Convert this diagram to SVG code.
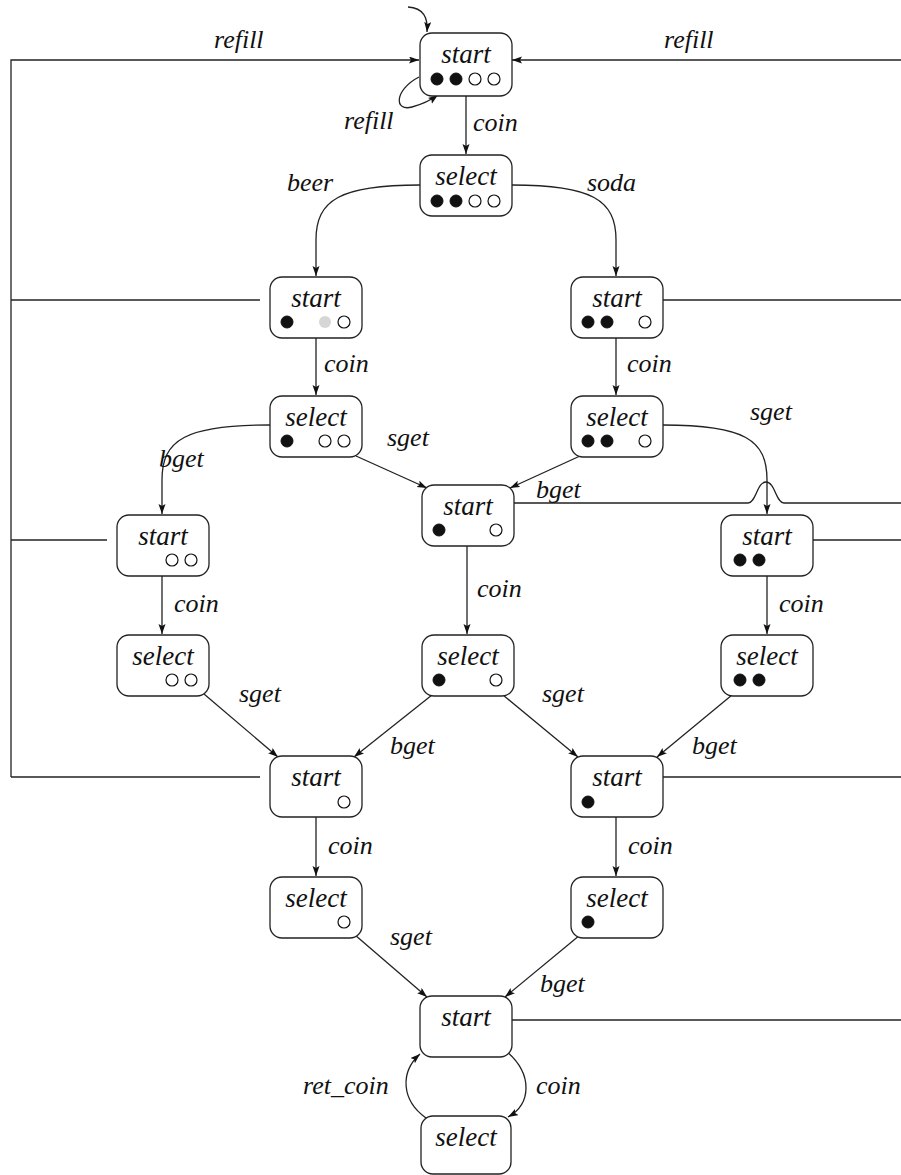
<svg xmlns="http://www.w3.org/2000/svg" width="901" height="1175" viewBox="0 0 901 1175">
<style>
.box{fill:#fff;stroke:#222;stroke-width:1.3}
.nt{font-family:"Liberation Serif","DejaVu Serif",serif;font-style:italic;font-size:27px;fill:#111;text-anchor:middle}
.el{font-family:"Liberation Serif","DejaVu Serif",serif;font-style:italic;font-size:26px;fill:#111}
.f{fill:#111;stroke:#111;stroke-width:1}
.e{fill:#fff;stroke:#111;stroke-width:1.2}
.g{fill:#d6d6d6;stroke:none}
.c{fill:none;stroke:#222;stroke-width:1.3}
.a{marker-end:url(#ah)}
</style>
<defs>
<marker id="ah" markerWidth="11" markerHeight="8" refX="10" refY="3.5" orient="auto" markerUnits="userSpaceOnUse">
<path d="M0,0 L10,3.5 L0,7 L2,3.5 z" fill="#111"/>
</marker>
</defs>
<rect x="0" y="0" width="901" height="1175" fill="#fff"/>
<g id="connectors">
<path class="c a" d="M408,7 C424,8 428,18 427,32"/>
<path class="c a" d="M419,77 C394,90 394,112 412,107 C423,104 431,100 438,95"/>
<path class="c a" d="M11,777 L11,60 L419,60"/>
<path class="c a" d="M901,60 L512,60"/>
<path class="c" d="M11,300 L260,300"/>
<path class="c" d="M11,540 L107,540"/>
<path class="c" d="M11,777 L260,777"/>
<path class="c" d="M663,300 L901,300"/>
<path class="c" d="M514,503 L748,503 C756,503 757,482 766,482 C775,482 776,503 784,503 L901,503"/>
<path class="c" d="M813,540 L901,540"/>
<path class="c" d="M663,777 L901,777"/>
<path class="c" d="M512,1020 L901,1020"/>
<path class="c a" d="M466,96 L466,154"/>
<path class="c a" d="M420,185 C340,185 316,200 316,240 L316,276"/>
<path class="c a" d="M512,185 C592,185 616,200 616,240 L616,276"/>
<path class="c a" d="M316,338 L316,395"/>
<path class="c a" d="M616,338 L616,395"/>
<path class="c a" d="M270,425 C185,425 162,440 162,480 L162,514"/>
<path class="c a" d="M663,425 C745,425 767,440 767,480 L767,514"/>
<path class="c a" d="M356,456 L427,488"/>
<path class="c a" d="M580,456 L510,488"/>
<path class="c a" d="M162,576 L162,634"/>
<path class="c a" d="M467,546 L467,634"/>
<path class="c a" d="M767,576 L767,634"/>
<path class="c a" d="M204,694 L278,757"/>
<path class="c a" d="M432,695 L354,757"/>
<path class="c a" d="M503,695 L578,757"/>
<path class="c a" d="M732,695 L657,757"/>
<path class="c a" d="M316,817 L316,876"/>
<path class="c a" d="M616,817 L616,876"/>
<path class="c a" d="M355,935 L427,997"/>
<path class="c a" d="M580,935 L505,997"/>
<path class="c a" d="M505,1050 C534,1074 531,1104 508,1117"/>
<path class="c a" d="M426,1118 C401,1100 400,1072 420,1054"/>
</g>
<g id="labels">
<text class="el" x="214" y="48">refill</text>
<text class="el" x="664" y="48">refill</text>
<text class="el" x="344" y="129">refill</text>
<text class="el" x="473" y="131">coin</text>
<text class="el" x="287" y="191">beer</text>
<text class="el" x="587" y="191">soda</text>
<text class="el" x="324" y="372">coin</text>
<text class="el" x="627" y="372">coin</text>
<text class="el" x="387" y="446">sget</text>
<text class="el" x="159" y="467">bget</text>
<text class="el" x="750" y="420">sget</text>
<text class="el" x="536" y="498">bget</text>
<text class="el" x="477" y="597">coin</text>
<text class="el" x="174" y="612">coin</text>
<text class="el" x="779" y="612">coin</text>
<text class="el" x="239" y="702">sget</text>
<text class="el" x="542" y="702">sget</text>
<text class="el" x="390" y="754">bget</text>
<text class="el" x="692" y="754">bget</text>
<text class="el" x="328" y="854">coin</text>
<text class="el" x="628" y="854">coin</text>
<text class="el" x="390" y="945">sget</text>
<text class="el" x="540" y="992">bget</text>
<text class="el" x="303" y="1094">ret_coin</text>
<text class="el" x="536" y="1094">coin</text>
</g>
<g id="n1"><rect class="box" x="420" y="33" width="92" height="63" rx="12"/><text class="nt" x="466" y="63">start</text><circle class="f" cx="437" cy="79" r="6"/><circle class="f" cx="456" cy="79" r="6"/><circle class="e" cx="475" cy="79" r="6"/><circle class="e" cx="494" cy="79" r="6"/></g>
<g id="n2"><rect class="box" x="420" y="155" width="92" height="61" rx="12"/><text class="nt" x="466" y="185">select</text><circle class="f" cx="437" cy="201" r="6"/><circle class="f" cx="456" cy="201" r="6"/><circle class="e" cx="475" cy="201" r="6"/><circle class="e" cx="494" cy="201" r="6"/></g>
<g id="n3"><rect class="box" x="270" y="277" width="92" height="61" rx="12"/><text class="nt" x="316" y="307">start</text><circle class="f" cx="287" cy="322" r="6"/><circle class="g" cx="325" cy="322" r="6"/><circle class="e" cx="344" cy="322" r="6"/></g>
<g id="n4"><rect class="box" x="571" y="277" width="92" height="61" rx="12"/><text class="nt" x="617" y="307">start</text><circle class="f" cx="588" cy="322" r="6"/><circle class="f" cx="607" cy="322" r="6"/><circle class="e" cx="645" cy="322" r="6"/></g>
<g id="n5"><rect class="box" x="270" y="396" width="92" height="61" rx="12"/><text class="nt" x="316" y="426">select</text><circle class="f" cx="287" cy="441" r="6"/><circle class="e" cx="325" cy="441" r="6"/><circle class="e" cx="344" cy="441" r="6"/></g>
<g id="n6"><rect class="box" x="571" y="396" width="92" height="61" rx="12"/><text class="nt" x="617" y="426">select</text><circle class="f" cx="588" cy="441" r="6"/><circle class="f" cx="607" cy="441" r="6"/><circle class="e" cx="645" cy="441" r="6"/></g>
<g id="n7"><rect class="box" x="117" y="515" width="92" height="61" rx="12"/><text class="nt" x="163" y="545">start</text><circle class="e" cx="172" cy="560" r="6"/><circle class="e" cx="191" cy="560" r="6"/></g>
<g id="n8"><rect class="box" x="422" y="485" width="92" height="61" rx="12"/><text class="nt" x="468" y="515">start</text><circle class="f" cx="439" cy="530" r="6"/><circle class="e" cx="496" cy="530" r="6"/></g>
<g id="n9"><rect class="box" x="721" y="515" width="92" height="61" rx="12"/><text class="nt" x="767" y="545">start</text><circle class="f" cx="740" cy="560" r="6"/><circle class="f" cx="759" cy="560" r="6"/></g>
<g id="n10"><rect class="box" x="117" y="635" width="92" height="61" rx="12"/><text class="nt" x="163" y="665">select</text><circle class="e" cx="172" cy="680" r="6"/><circle class="e" cx="191" cy="680" r="6"/></g>
<g id="n11"><rect class="box" x="422" y="635" width="92" height="61" rx="12"/><text class="nt" x="468" y="665">select</text><circle class="f" cx="439" cy="680" r="6"/><circle class="e" cx="496" cy="680" r="6"/></g>
<g id="n12"><rect class="box" x="721" y="635" width="92" height="61" rx="12"/><text class="nt" x="767" y="665">select</text><circle class="f" cx="740" cy="680" r="6"/><circle class="f" cx="759" cy="680" r="6"/></g>
<g id="n13"><rect class="box" x="270" y="756" width="92" height="61" rx="12"/><text class="nt" x="316" y="786">start</text><circle class="e" cx="344" cy="802" r="6"/></g>
<g id="n14"><rect class="box" x="571" y="756" width="92" height="61" rx="12"/><text class="nt" x="617" y="786">start</text><circle class="f" cx="588" cy="802" r="6"/></g>
<g id="n15"><rect class="box" x="270" y="877" width="92" height="61" rx="12"/><text class="nt" x="316" y="907">select</text><circle class="e" cx="344" cy="922" r="6"/></g>
<g id="n16"><rect class="box" x="571" y="877" width="92" height="61" rx="12"/><text class="nt" x="617" y="907">select</text><circle class="f" cx="588" cy="922" r="6"/></g>
<g id="n17"><rect class="box" x="420" y="996" width="92" height="61" rx="12"/><text class="nt" x="466" y="1026">start</text></g>
<g id="n18"><rect class="box" x="421" y="1116" width="90" height="58" rx="12"/><text class="nt" x="466" y="1146">select</text></g>
</svg>
